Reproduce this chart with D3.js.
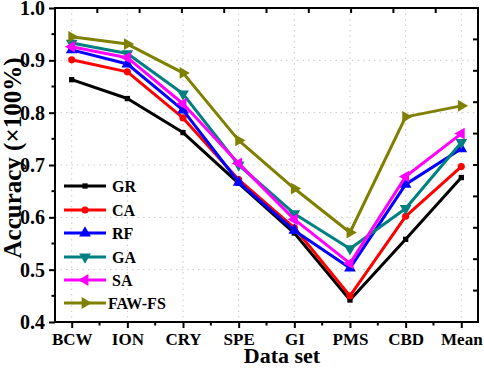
<!DOCTYPE html>
<html><head><meta charset="utf-8">
<script src="https://cdn.jsdelivr.net/npm/d3@7"></script>
<style>body{margin:0;background:#fff}svg{display:block}text{font-family:"Liberation Serif","Times New Roman",serif;font-weight:bold}</style>
</head><body>
<svg id="c" width="484" height="368"></svg>
<script>
const categories = ["BCW","ION","CRY","SPE","GI","PMS","CBD","Mean"];
const seriesNames = ["GR","CA","RF","GA","SA","FAW-FS"];
const GR   = [0.863,0.827,0.762,0.665,0.570,0.442,0.558,0.676];
const CA   = [0.901,0.878,0.790,0.672,0.580,0.450,0.602,0.697];
const RF   = [0.920,0.893,0.805,0.667,0.575,0.503,0.663,0.731];
const GA   = [0.933,0.913,0.836,0.700,0.607,0.540,0.617,0.743];
const SA   = [0.926,0.905,0.817,0.703,0.596,0.512,0.678,0.760];
const FAW  = [0.945,0.931,0.876,0.747,0.655,0.571,0.792,0.813];
const yTicks = [0.4,0.5,0.6,0.7,0.8,0.9,1.0];
const colors = ["#000000","#ff0000","#0000ff","#008080","#ff00ff","#808000"];
const data = [GR,CA,RF,GA,SA,FAW];

const L=55,R=478,T=8,B=322;
const svg=d3.select("#c");
const x=d3.scalePoint().domain(categories).range([L,R]).padding(0.3);
const y=d3.scaleLinear().domain([0.4,1.0]).range([B,T]);

// grid
const g=svg.append("g");
g.selectAll("line.gy").data([0.5,0.6,0.7,0.8,0.9]).enter().append("line")
 .attr("x1",L).attr("x2",R).attr("y1",d=>y(d)).attr("y2",d=>y(d))
 .attr("stroke","#c8c8c8").attr("stroke-width",1).attr("stroke-dasharray","1.5,4");
g.selectAll("line.gx").data(categories).enter().append("line")
 .attr("y1",T).attr("y2",B).attr("x1",d=>x(d)).attr("x2",d=>x(d))
 .attr("stroke","#c8c8c8").attr("stroke-width",1).attr("stroke-dasharray","1.5,4");

// series
const line=d3.line().x((d,i)=>x(categories[i])).y(d=>y(d));
const symDefs=[
 {t:d3.symbolSquare,s:28,r:0},
 {t:d3.symbolCircle,s:40,r:0},
 {t:d3.symbolTriangle,s:60,r:0},
 {t:d3.symbolTriangle,s:60,r:180},
 {t:d3.symbolTriangle,s:60,r:-90},
 {t:d3.symbolTriangle,s:60,r:90}
];
data.forEach((vals,k)=>{
  svg.append("path").datum(vals).attr("d",line).attr("fill","none")
   .attr("stroke",colors[k]).attr("stroke-width",3).attr("stroke-linejoin","round");
  svg.selectAll(null).data(vals).enter().append("path")
   .attr("d",d3.symbol().type(symDefs[k].t).size(symDefs[k].s))
   .attr("transform",(d,i)=>`translate(${x(categories[i])},${y(d)}) rotate(${symDefs[k].r})`)
   .attr("fill",colors[k]);
});

// axes
const ax=svg.append("g").attr("stroke","#000").attr("stroke-width",2);
ax.append("rect").attr("x",L).attr("y",T).attr("width",R-L).attr("height",B-T).attr("fill","none");
// bottom
const bAx=d3.axisBottom(x).tickSize(6).tickPadding(5);
const bg=svg.append("g").attr("transform",`translate(0,${B})`).call(bAx);
bg.select(".domain").remove();
bg.selectAll(".tick line").attr("stroke-width",2);
bg.selectAll("text").attr("font-size",17).attr("fill","#000").attr("font-family","Liberation Serif").attr("font-weight","bold");
const mids=categories.slice(0,-1).map((c,i)=>(x(c)+x(categories[i+1]))/2);
svg.selectAll(null).data(mids).enter().append("line")
 .attr("x1",d=>d).attr("x2",d=>d).attr("y1",B).attr("y2",B+3.5).attr("stroke","#000").attr("stroke-width",2);
// left
const lAx=d3.axisLeft(y).tickValues(yTicks).tickFormat(d3.format(".1f")).tickSize(6).tickPadding(4);
const lg=svg.append("g").attr("transform",`translate(${L},0)`).call(lAx);
lg.select(".domain").remove();
lg.selectAll(".tick line").attr("stroke-width",2);
lg.selectAll("text").attr("font-size",20).attr("fill","#000").attr("font-family","Liberation Serif").attr("font-weight","bold");
const ymin=[0.45,0.55,0.65,0.75,0.85,0.95];
svg.selectAll(null).data(ymin).enter().append("line")
 .attr("x1",L-3.5).attr("x2",L).attr("y1",d=>y(d)).attr("y2",d=>y(d)).attr("stroke","#000").attr("stroke-width",2);
// top & right (unlabelled, inward)
const tx=d3.scaleLinear().domain([0,10]).range([L,R]);
const ry=d3.scaleLinear().domain([0,10]).range([B,T]);
svg.selectAll(null).data(d3.range(1,10)).enter().append("line")
 .attr("x1",d=>tx(d)).attr("x2",d=>tx(d)).attr("y1",T).attr("y2",T+5).attr("stroke","#000").attr("stroke-width",2);
svg.selectAll(null).data(d3.range(1,10)).enter().append("line")
 .attr("y1",d=>ry(d)).attr("y2",d=>ry(d)).attr("x1",R).attr("x2",R-5).attr("stroke","#000").attr("stroke-width",2);

// titles
svg.append("text").attr("x",282).attr("y",363).attr("text-anchor","middle").attr("font-size",22).text("Data set");
svg.append("text").attr("transform","translate(21,158) rotate(-90)").attr("text-anchor","middle").attr("font-size",25).text("Accuracy (×100%)");

// legend
const ly=[186,210,233,257,280,303];
seriesNames.forEach((n,k)=>{
  svg.append("line").attr("x1",64).attr("x2",106).attr("y1",ly[k]).attr("y2",ly[k]).attr("stroke",colors[k]).attr("stroke-width",3);
  svg.append("path").attr("d",d3.symbol().type(symDefs[k].t).size(symDefs[k].s)())
   .attr("transform",`translate(85,${ly[k]}) rotate(${symDefs[k].r})`).attr("fill",colors[k]);
  svg.append("text").attr("x",k===5?108:112).attr("y",ly[k]).attr("dy","0.35em").attr("font-size",16).text(n);
});
</script>
</body></html>
